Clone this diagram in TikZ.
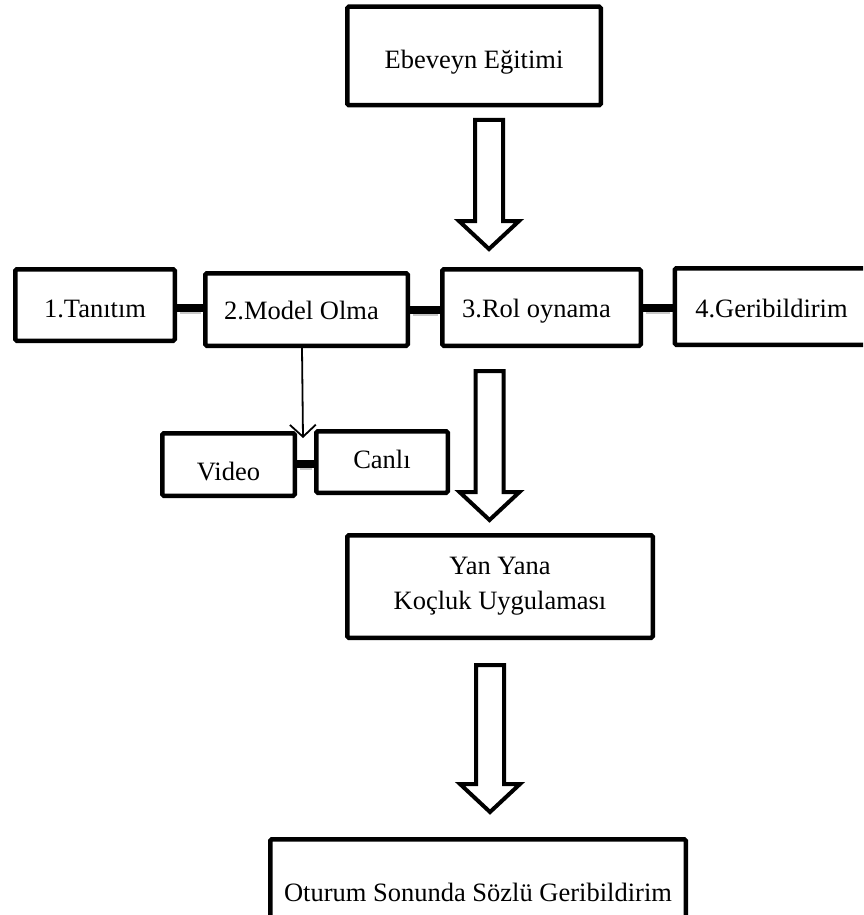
\documentclass[tikz,border=0pt]{standalone}
\usepackage{fontspec}
\setmainfont{Liberation Serif}
\usetikzlibrary{arrows.meta,calc}
\tikzset{
  box/.style={draw, line width=4.5pt, rounded corners=1.5pt, fill=white, inner sep=0pt,
              font=\fontsize{26.5}{35}\selectfont},
  one/.style={text height=17pt, text depth=0pt},
  bar/.style={line width=8pt},
  barshadow/.style={line width=5pt, draw=black!22, shorten <=2.5pt, shorten >=2.5pt},
  blockarrow/.style={draw, line width=4pt, fill=white, line join=miter},
  thinarrow/.style={line width=1.8pt, -{Straight Barb[length=12pt,width=26pt,line width=1.8pt]}},
}
\newcommand{\hollowarrow}[2]{%
  \draw[blockarrow] ($(#1)+(-14,0)$) -- ($(#1)+(14,0)$) -- ($(#2)+(14,-28)$)
    -- ($(#2)+(30,-28)$) -- (#2) -- ($(#2)+(-30,-28)$) -- ($(#2)+(-14,-28)$) -- cycle;}
\begin{document}
\begin{tikzpicture}[x=1pt,y=-1pt]
\useasboundingbox (0,0) rectangle (863,915);
\clip (0,0) rectangle (863,915);

% boxes
\node[box, one, minimum width=253.5pt, minimum height=98.5pt] (ebe) at (474,56) {\raisebox{-4pt}{Ebeveyn Eğitimi}};
\node[box, one, minimum width=159.5pt, minimum height=71.5pt] (tan) at (95,305) {\raisebox{-4pt}{1.Tanıtım}};
\node[box, one, minimum width=202.5pt, minimum height=72.5pt] (mod) at (306.5,309.5) {\hspace*{-10pt}\raisebox{-1pt}{2.Model Olma}};
\node[box, one, minimum width=198.5pt, minimum height=76.5pt] (rol) at (541.5,307.5) {\hspace*{-10pt}\raisebox{-1pt}{3.Rol oynama}};
\node[box, one, minimum width=193.5pt, minimum height=76.5pt] (ger) at (771.5,306.5) {\raisebox{-2pt}{4.Geribildirim}};
\node[box, one, minimum width=132.5pt, minimum height=62.5pt] (vid) at (228.5,464.5) {\raisebox{-7.5pt}{Video}};
\node[box, one, minimum width=131.5pt, minimum height=61.5pt] (can) at (382,462) {\raisebox{2pt}{Canlı}};
\node[box, align=center, minimum width=305.5pt, minimum height=102.5pt] (yan) at (500,586.5) {Yan Yana\\Koçluk Uygulaması};
\node[box, one, minimum width=415.5pt, minimum height=107.5pt] (otu) at (478,893) {Oturum Sonunda Sözlü Geribildirim};

% thick connectors with shadow
\draw[barshadow] ([yshift=-6pt]tan.east) -- ([yshift=-6pt]tan.east -| mod.west);
\draw[bar] ([yshift=-3pt]tan.east) -- ([yshift=-3pt]tan.east -| mod.west);
\draw[barshadow] ([yshift=-4pt]mod.east) -- ([yshift=-4pt]mod.east -| rol.west);
\draw[bar] (mod.east) -- (mod.east -| rol.west);
\draw[barshadow] ([yshift=-4pt]rol.east) -- ([yshift=-4pt]rol.east -| ger.west);
\draw[bar] (rol.east) -- (rol.east -| ger.west);
\draw[barshadow] ([yshift=-3pt]vid.east) -- ([yshift=-3pt]vid.east -| can.west);
\draw[bar] ([yshift=1pt]vid.east) -- ([yshift=1pt]vid.east -| can.west);

% thin arrow from Model Olma
\coordinate (mfoot) at ([xshift=-4.5pt]mod.south);
\coordinate (vtip) at (303,438);
\draw[thinarrow] (mfoot) -- (vtip);

% hollow block arrows
\coordinate (a1t) at (489,120); \coordinate (a1b) at (489,249);
\coordinate (a2t) at (489.5,371); \coordinate (a2b) at (489.5,520);
\coordinate (a3t) at (490,665); \coordinate (a3b) at (490,812);
\hollowarrow{a1t}{a1b}
\hollowarrow{a2t}{a2b}
\hollowarrow{a3t}{a3b}
\end{tikzpicture}
\end{document}
